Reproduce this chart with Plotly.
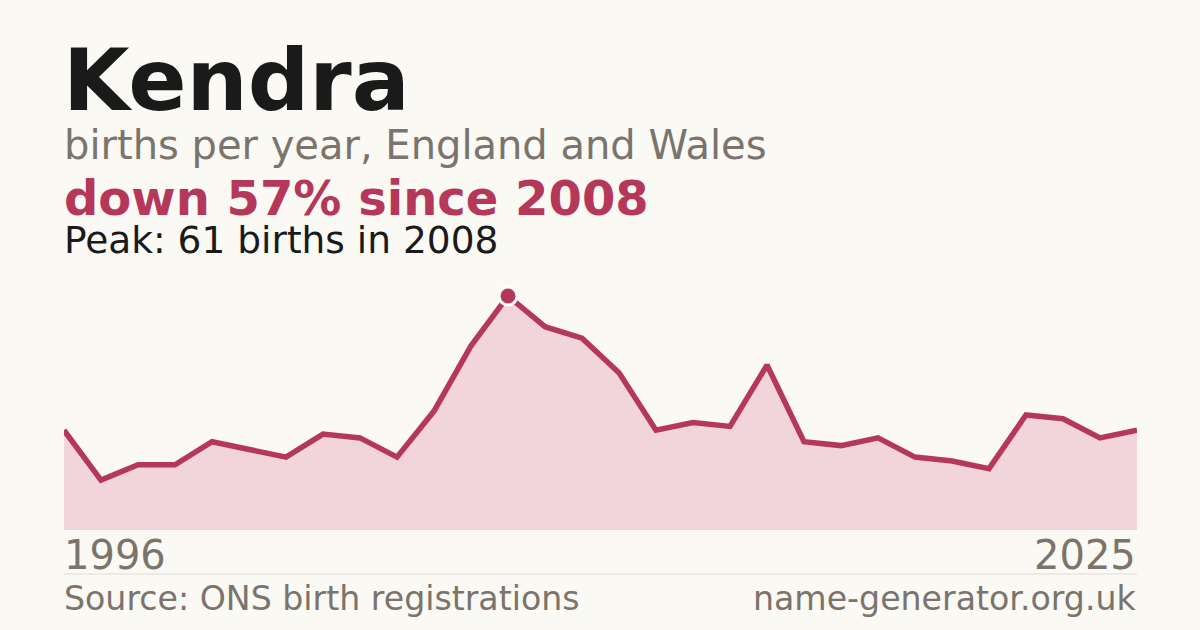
import plotly.graph_objects as go

name = "Kendra"
subtitle = "births per year, England and Wales"
years = list(range(1996, 2026))
births = [26, 13, 17, 17, 23, 21, 19, 25, 24, 19,
          31, 48, 61, 53, 50, 41, 26, 28, 27, 43,
          23, 22, 24, 19, 18, 16, 30, 29, 24, 26]
peak_year = 2008
peak_value = 61
change_text = "down 57% since 2008"
peak_text = "Peak: 61 births in 2008"
source_text = "Source: ONS birth registrations"
site_text = "name-generator.org.uk"

RED = "#b5385a"
FILL = "#f1d5db"
BG = "#faf9f4"
DARK = "#1a1a1a"
GREY = "#7a746c"

W, H = 1200, 630
L, R = 64, 63
T, B = 280, 100
plot_h = H - T - B  # 250
plot_w = W - L - R
FONT = "DejaVu Sans"


def py(pix):
    return (H - B - pix) / plot_h


def px(pix):
    return (pix - L) / plot_w


fig = go.Figure()
fig.add_trace(go.Scatter(
    x=years, y=births, mode="lines",
    line=dict(color=RED, width=5.5),
    fill="tozeroy", fillcolor=FILL,
    hoverinfo="skip", showlegend=False,
))
fig.add_trace(go.Scatter(
    x=[peak_year], y=[peak_value], mode="markers",
    marker=dict(color=RED, size=18, line=dict(color="white", width=3)),
    cliponaxis=False, hoverinfo="skip", showlegend=False,
))

ann = []


def text(t, x, ybase, size, color, bold=False, anchor="left"):
    s = f"<b>{t}</b>" if bold else t
    ann.append(dict(
        text=s, x=px(x), y=py(ybase + 0.26 * size), xref="paper", yref="paper",
        xanchor=anchor, yanchor="bottom", showarrow=False,
        font=dict(family=FONT, size=size, color=color), borderpad=0,
    ))


text(name, 62, 109, 86, DARK, bold=True)
text(subtitle, 63, 159, 40, GREY)
text(change_text, 63, 215, 48, RED, bold=True)
text(peak_text, 63, 253, 37.5, DARK)
text(str(years[0]), 63, 569, 40, GREY)
text(str(years[-1]), 1137, 569, 40, GREY, anchor="right")
text(source_text, 63, 610, 33.2, GREY)
text(site_text, 1137, 610, 33.2, GREY, anchor="right")

fig.update_layout(
    width=W, height=H,
    margin=dict(l=L, r=R, t=T, b=B),
    paper_bgcolor=BG, plot_bgcolor=BG,
    xaxis=dict(range=[years[0], years[-1]], visible=False, fixedrange=True),
    yaxis=dict(range=[0, peak_value * plot_h / 234], visible=False, fixedrange=True),
    annotations=ann,
    shapes=[dict(type="line", xref="paper", yref="paper",
                 x0=0, x1=1, y0=py(574), y1=py(574),
                 line=dict(color="#dedbd3", width=1))],
    showlegend=False,
)

fig.write_html(
    "out.html",
    config={"displayModeBar": False, "staticPlot": True},
    post_script="document.body.style.margin='0';document.body.style.background='#faf9f4';",
)
